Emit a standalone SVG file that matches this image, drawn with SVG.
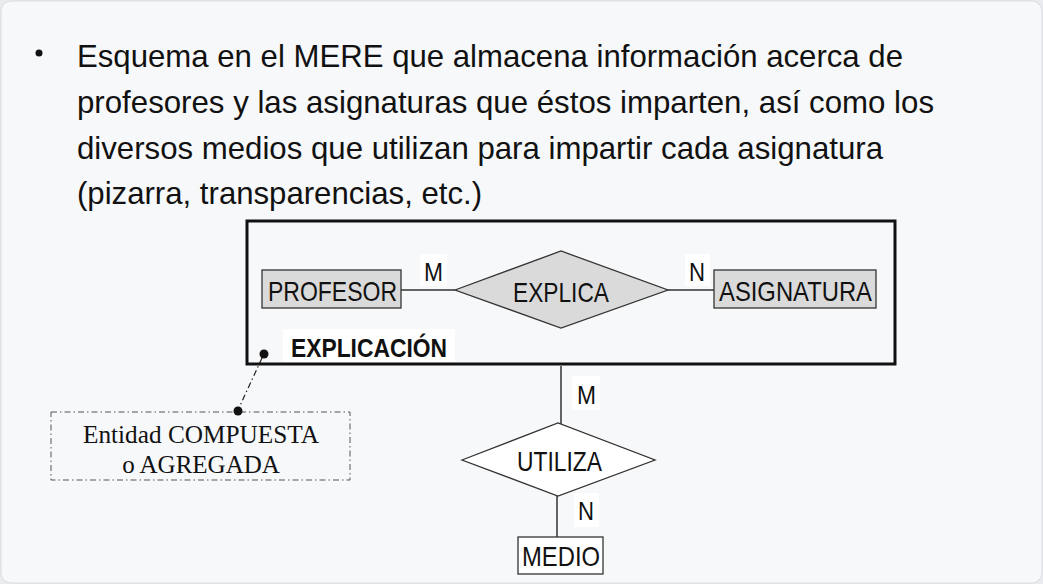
<svg xmlns="http://www.w3.org/2000/svg" width="1043" height="584" viewBox="0 0 1043 584">
<style>
.title{font-family:"Liberation Sans",Arial,sans-serif;font-size:32px;fill:#111}
.lbl{font-family:"Liberation Sans",Arial,sans-serif;font-size:28px;fill:#111}
.card{font-family:"Liberation Sans",Arial,sans-serif;font-size:26px;fill:#111}
.ent{stroke:#333;stroke-width:1.3}
.ln{stroke:#333;stroke-width:1.5;fill:none}
.serif{font-family:"Liberation Serif","Times New Roman",serif;font-size:25px;fill:#111;text-anchor:middle}
</style>
<rect x="0" y="0" width="1043" height="584" fill="#e9ebee"/>
<rect x="1" y="1" width="1041" height="582" rx="10" fill="#f7f8fa" stroke="#d9dce0"/>
<g id="title">
<circle cx="39" cy="53" r="3.5" fill="#111"/>
<text class="title" x="77" y="67" textLength="826" lengthAdjust="spacingAndGlyphs">Esquema en el MERE que almacena información acerca de</text>
<text class="title" x="77" y="113" textLength="857" lengthAdjust="spacingAndGlyphs">profesores y las asignaturas que éstos imparten, así como los</text>
<text class="title" x="77" y="159" textLength="806" lengthAdjust="spacingAndGlyphs">diversos medios que utilizan para impartir cada asignatura</text>
<text class="title" x="77" y="204" textLength="405" lengthAdjust="spacingAndGlyphs">(pizarra, transparencias, etc.)</text>
</g>
<g id="connectors">
<line class="ln" x1="401" y1="290" x2="455" y2="290"/>
<line class="ln" x1="668" y1="290" x2="714" y2="290"/>
<line class="ln" x1="561" y1="366" x2="561" y2="424"/>
<line class="ln" x1="557" y1="496" x2="557" y2="538"/>
<line x1="262" y1="358" x2="238" y2="410" stroke="#222" stroke-width="1.2" stroke-dasharray="6,3,1.5,3"/>
</g>
<g id="explicacion">
<rect x="247" y="221" width="648" height="143" fill="none" stroke="#111" stroke-width="3"/>
<rect x="283" y="329" width="172" height="33" fill="#fff"/>
<text x="291" y="357" font-family="'Liberation Sans',Arial,sans-serif" font-size="26" font-weight="bold" fill="#111" textLength="156" lengthAdjust="spacingAndGlyphs">EXPLICACIÓN</text>
<circle cx="264" cy="354" r="4.5" fill="#111"/>
</g>
<g id="profesor">
<rect class="ent" x="262" y="270" width="139" height="38" fill="#dadada"/>
<text class="lbl" x="268" y="301" textLength="129" lengthAdjust="spacingAndGlyphs">PROFESOR</text>
</g>
<g id="explica">
<polygon class="ent" points="455,290 561,251 668,290 561,328" fill="#dadada"/>
<text class="lbl" x="513" y="302" textLength="96" lengthAdjust="spacingAndGlyphs">EXPLICA</text>
</g>
<g id="asignatura">
<rect class="ent" x="714" y="270" width="162" height="38" fill="#dadada"/>
<text class="lbl" x="719" y="301" textLength="153" lengthAdjust="spacingAndGlyphs">ASIGNATURA</text>
</g>
<g id="card-labels">
<rect x="420" y="254" width="27" height="32" fill="#fff"/>
<text class="card" x="424" y="281" textLength="19" lengthAdjust="spacingAndGlyphs">M</text>
<rect x="685" y="254" width="25" height="32" fill="#fff"/>
<text class="card" x="689" y="281" textLength="16" lengthAdjust="spacingAndGlyphs">N</text>
<rect x="572" y="376" width="28" height="34" fill="#fff"/>
<text class="card" x="577" y="404" textLength="19" lengthAdjust="spacingAndGlyphs">M</text>
<rect x="574" y="493" width="25" height="34" fill="#fff"/>
<text class="card" x="578" y="520" textLength="16" lengthAdjust="spacingAndGlyphs">N</text>
</g>
<g id="utiliza">
<polygon class="ent" points="462,460 558,423 655,460 558,496" fill="#fff"/>
<text class="lbl" x="517" y="471" textLength="85" lengthAdjust="spacingAndGlyphs">UTILIZA</text>
</g>
<g id="medio">
<rect class="ent" x="518" y="537" width="85" height="37" fill="#fff"/>
<text class="lbl" x="522" y="566" textLength="78" lengthAdjust="spacingAndGlyphs">MEDIO</text>
</g>
<g id="nota">
<rect x="51" y="412" width="299" height="68" fill="none" stroke="#555" stroke-width="1" stroke-dasharray="6,3,1.5,3"/>
<circle cx="238" cy="411" r="4.5" fill="#111"/>
<text class="serif" x="201" y="443" textLength="236" lengthAdjust="spacingAndGlyphs">Entidad COMPUESTA</text>
<text class="serif" x="201" y="473">o AGREGADA</text>
</g>
</svg>
